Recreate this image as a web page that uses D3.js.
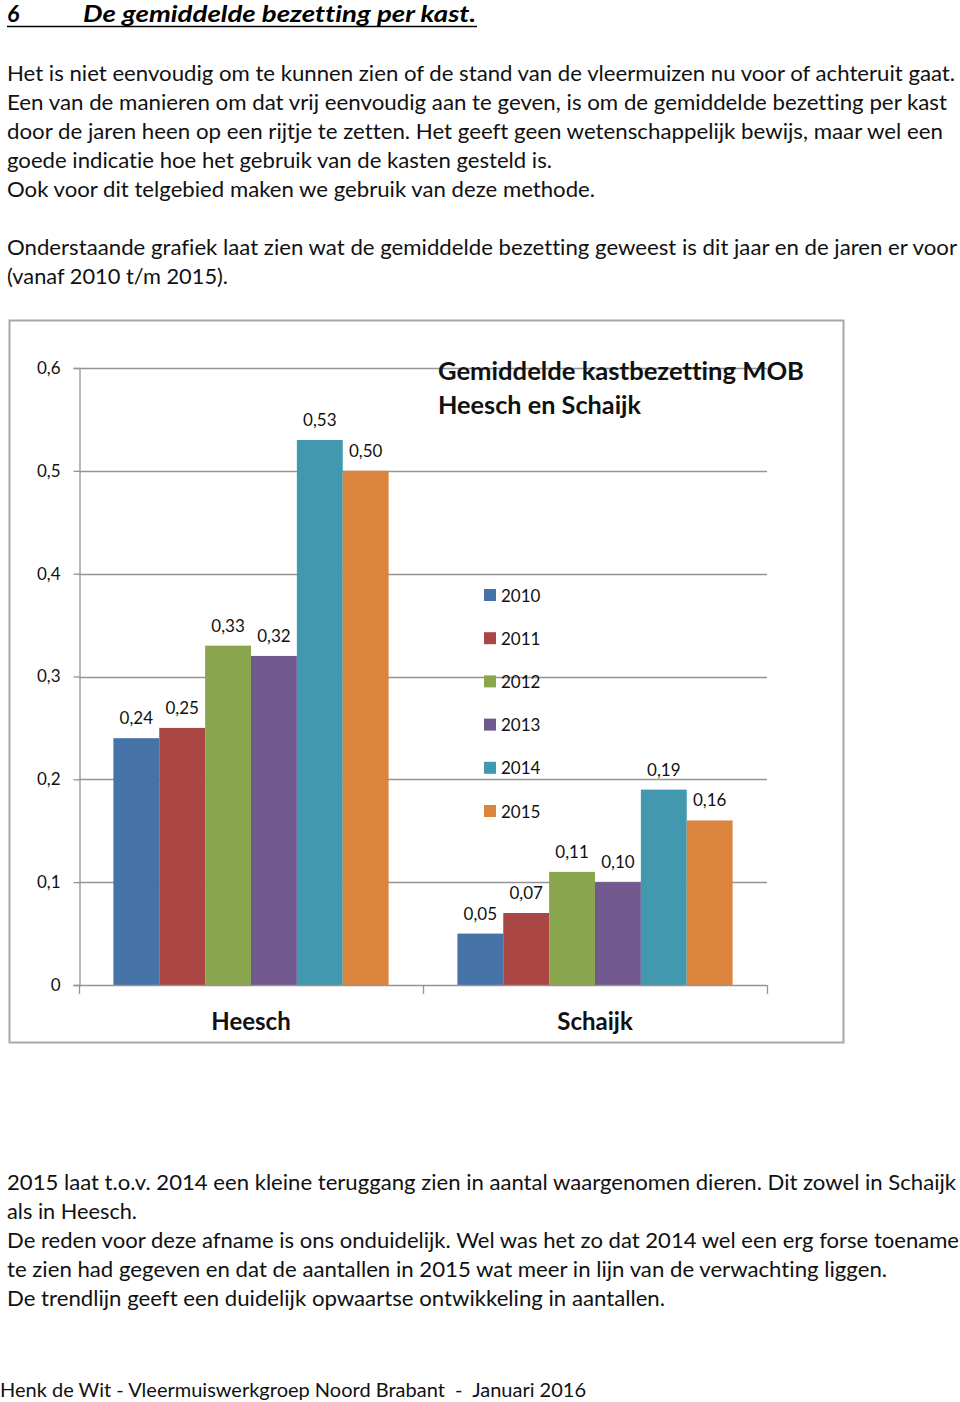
<!DOCTYPE html>
<html>
<head>
<meta charset="utf-8">
<script src="https://cdn.jsdelivr.net/npm/d3@7"></script>
<style>
  html, body { margin: 0; padding: 0; background: #fff; }
  svg { display: block; }
  text { font-family: Lato, "Open Sans", sans-serif; font-variant-ligatures: none; font-feature-settings: "liga" 0, "clig" 0; }
</style>
</head>
<body>
<div id="chart"></div>
<script>
// ---------- DATA ----------
const categories = ["Heesch", "Schaijk"];
const years = ["2010", "2011", "2012", "2013", "2014", "2015"];
const heeschValues = [0.24, 0.25, 0.33, 0.32, 0.53, 0.50];
const schaijkValues = [0.05, 0.07, 0.11, 0.10, 0.19, 0.16];
const yTicks = [0, 0.1, 0.2, 0.3, 0.4, 0.5, 0.6];
const yearColors = ["#4572A7", "#AA4643", "#89A54E", "#71588F", "#4198AF", "#DB843D"];
const chartTitle = ["Gemiddelde kastbezetting MOB", "Heesch en Schaijk"];

const headingNumber = "6";
const headingText = "De gemiddelde bezetting per kast.";
const introLines = [
  "Het is niet eenvoudig om te kunnen zien of de stand van de vleermuizen nu voor of achteruit gaat.",
  "Een van de manieren om dat vrij eenvoudig aan te geven, is om de gemiddelde bezetting per kast",
  "door de jaren heen op een rijtje te zetten. Het geeft geen wetenschappelijk bewijs, maar wel een",
  "goede indicatie hoe het gebruik van de kasten gesteld is.",
  "Ook voor dit telgebied maken we gebruik van deze methode.",
  "",
  "Onderstaande grafiek laat zien wat de gemiddelde bezetting geweest is dit jaar en de jaren er voor",
  "(vanaf 2010 t/m 2015)."
];
const introWidths = [948, 940, 936, 545, 588, 0, 950, 221];
const outroLines = [
  "2015 laat t.o.v. 2014 een kleine teruggang zien in aantal waargenomen dieren. Dit zowel in Schaijk",
  "als in Heesch.",
  "De reden voor deze afname is ons onduidelijk. Wel was het zo dat 2014 wel een erg forse toename",
  "te zien had gegeven en dat de aantallen in 2015 wat meer in lijn van de verwachting liggen.",
  "De trendlijn geeft een duidelijk opwaartse ontwikkeling in aantallen."
];
const outroWidths = [949, 130, 952, 880, 658];
const footer = "Henk de Wit - Vleermuiswerkgroep Noord Brabant  -  Januari 2016";

const series = years.map((yr, i) => ({
  year: yr,
  color: yearColors[i],
  values: [heeschValues[i], schaijkValues[i]]
}));

// ---------- SVG ----------
const W = 960, H = 1402;
const svg = d3.select("#chart").append("svg").attr("width", W).attr("height", H);
svg.append("rect").attr("width", W).attr("height", H).attr("fill", "#fff");

// heading
svg.append("text").attr("x", 7).attr("y", 22)
  .attr("font-size", 23).attr("font-weight", "bold").attr("font-style", "italic")
  .text(headingNumber);
svg.append("text").attr("x", 83).attr("y", 22)
  .attr("font-size", 23).attr("font-weight", "bold").attr("font-style", "italic")
  .attr("textLength", 393).attr("lengthAdjust", "spacingAndGlyphs")
  .text(headingText);
svg.append("line").attr("x1", 7).attr("x2", 477).attr("y1", 26.5).attr("y2", 26.5)
  .attr("stroke", "#000").attr("stroke-width", 1.5);

function paragraph(lines, widths, y0) {
  lines.forEach((l, i) => {
    if (!l) return;
    svg.append("text").attr("x", 7).attr("y", y0 + i * 29)
      .attr("font-size", 20.5).attr("fill", "#111")
      .attr("textLength", widths[i]).attr("lengthAdjust", "spacingAndGlyphs")
      .text(l);
  });
}
paragraph(introLines, introWidths, 81);
paragraph(outroLines, outroWidths, 1190);

svg.append("text").attr("x", 0).attr("y", 1397)
  .attr("font-size", 19.5).attr("fill", "#111")
  .attr("textLength", 586).attr("lengthAdjust", "spacingAndGlyphs")
  .attr("xml:space", "preserve")
  .text(footer);

// ---------- CHART ----------
const frame = { x: 9, y: 320, w: 834, h: 722 };
svg.append("rect").attr("x", frame.x + 0.5).attr("y", frame.y + 0.5)
  .attr("width", frame.w).attr("height", frame.h)
  .attr("fill", "#fff").attr("stroke", "#a8a8a8").attr("stroke-width", 2);

const plot = { left: 79, right: 767, top: 368, bottom: 985 };
const y = d3.scaleLinear().domain([0, 0.6]).range([plot.bottom, plot.top]);
const x0 = d3.scaleBand().domain(categories).range([plot.left, plot.right]).padding(0);
const x1 = d3.scaleBand().domain(years).range([0, x0.bandwidth()]).paddingInner(0).paddingOuter(0.75);

const gridColor = "#959595";
const fmtTick = d => d === 0 ? "0" : d3.format(".1f")(d).replace(".", ",");
const fmtVal = d => d3.format(".2f")(d).replace(".", ",");

// gridlines
svg.append("g").selectAll("line").data(yTicks.filter(t => t > 0)).join("line")
  .attr("x1", plot.left).attr("x2", plot.right)
  .attr("y1", d => Math.round(y(d)) + 0.5).attr("y2", d => Math.round(y(d)) + 0.5)
  .attr("stroke", gridColor).attr("stroke-width", 1.3);

// y axis
const yAxis = d3.axisLeft(y).tickValues(yTicks).tickSize(6).tickPadding(13).tickFormat(fmtTick);
const gy = svg.append("g").attr("transform", `translate(${plot.left + 0.5},0)`).call(yAxis);
gy.select(".domain").attr("stroke", gridColor).attr("stroke-width", 1.3);
gy.selectAll(".tick line").attr("stroke", gridColor).attr("stroke-width", 1.3);
gy.selectAll(".tick text").attr("font-size", 17).attr("fill", "#111")
  .style("font-family", "Lato, sans-serif");

// bars
const groups = svg.append("g").selectAll("g").data(categories).join("g")
  .attr("transform", c => `translate(${x0(c)},0)`);
groups.selectAll("rect").data((c, ci) => series.map(s => ({ year: s.year, color: s.color, v: s.values[ci] })))
  .join("rect")
  .attr("x", d => x1(d.year)).attr("width", x1.bandwidth())
  .attr("y", d => y(d.v)).attr("height", d => y(0) - y(d.v))
  .attr("fill", d => d.color);
groups.selectAll("text.val").data((c, ci) => series.map(s => ({ year: s.year, v: s.values[ci] })))
  .join("text").attr("class", "val")
  .attr("x", d => x1(d.year) + x1.bandwidth() / 2)
  .attr("y", d => y(d.v) - 14)
  .attr("text-anchor", "middle").attr("font-size", 17).attr("fill", "#111")
  .text(d => fmtVal(d.v));

// x axis baseline + ticks
svg.append("line").attr("x1", plot.left).attr("x2", plot.right)
  .attr("y1", plot.bottom + 0.5).attr("y2", plot.bottom + 0.5)
  .attr("stroke", gridColor).attr("stroke-width", 1.3);
const xTickPos = categories.map(c => x0(c)).concat([x0(categories[categories.length - 1]) + x0.bandwidth()]);
svg.append("g").selectAll("line").data(xTickPos).join("line")
  .attr("x1", d => d + 0.5).attr("x2", d => d + 0.5)
  .attr("y1", plot.bottom).attr("y2", plot.bottom + 9)
  .attr("stroke", gridColor).attr("stroke-width", 1.3);
svg.append("g").selectAll("text").data(categories).join("text")
  .attr("x", c => x0(c) + x0.bandwidth() / 2)
  .attr("y", 1030)
  .attr("text-anchor", "middle").attr("font-size", 24).attr("font-weight", "bold").attr("fill", "#111")
  .text(c => c);

// chart title
svg.append("g").selectAll("text").data(chartTitle).join("text")
  .attr("x", 438).attr("y", (d, i) => 380 + i * 34)
  .attr("font-size", 24).attr("font-weight", "bold").attr("fill", "#111")
  .attr("textLength", (d, i) => i === 0 ? 366 : 203).attr("lengthAdjust", "spacingAndGlyphs")
  .text(d => d);

// legend
const legend = svg.append("g").selectAll("g").data(series).join("g")
  .attr("transform", (d, i) => `translate(484,${595 + i * 43.2})`);
legend.append("rect").attr("x", 0).attr("y", -6).attr("width", 12).attr("height", 12)
  .attr("fill", d => d.color);
legend.append("text").attr("x", 17).attr("y", 6.5)
  .attr("font-size", 17).attr("fill", "#111")
  .text(d => d.year);
</script>
</body>
</html>
